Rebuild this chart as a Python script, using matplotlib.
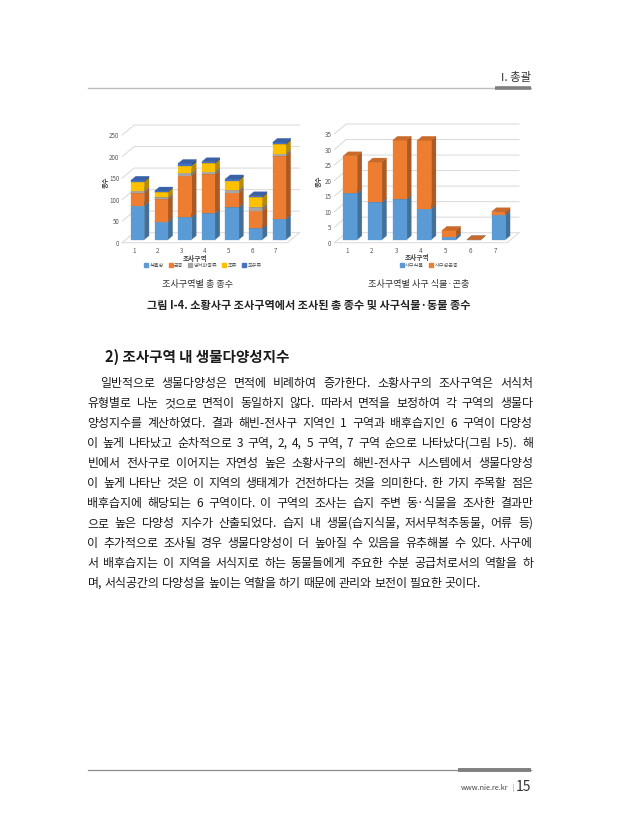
import matplotlib
matplotlib.use('Agg')
import matplotlib.pyplot as plt
from matplotlib.patches import Polygon, Patch
from matplotlib.colors import to_rgb

plt.rcParams['font.family'] = ['Noto Sans CJK KR', 'DejaVu Sans']

# ---------------- data ----------------
zones = ['1', '2', '3', '4', '5', '6', '7']

total_series = ['식물상', '곤충', '양서파충류', '조류', '포유류']
flora = [79, 42, 52, 61, 75, 26, 48]
insects = [29, 52, 97, 91, 34, 41, 146]
herps = [5, 4, 6, 6, 6, 8, 6]
birds = [21, 12, 16, 19, 22, 23, 21]
mammals = [4, 3, 6, 4, 4, 4, 5]
total_colors = ['#5B9BD5', '#ED7D31', '#A5A5A5', '#FFC000', '#4472C4']
total_ticks = [0, 50, 100, 150, 200, 250]

dune_series = ['사구식물', '사구성곤충']
dune_flora = [15, 12, 13, 10, 1, 0, 8]
dune_insects = [12, 13, 19, 22, 2, 0, 1]
dune_colors = ['#5B9BD5', '#ED7D31']
dune_ticks = [0, 5, 10, 15, 20, 25, 30, 35]

body_lines = [
    "일반적으로 생물다양성은 면적에 비례하여 증가한다. 소황사구의 조사구역은 서식처",
    "유형별로 나눈 것으로 면적이 동일하지 않다. 따라서 면적을 보정하여 각 구역의 생물다",
    "양성지수를 계산하였다. 결과 해빈-전사구 지역인 1 구역과 배후습지인 6 구역이 다양성",
    "이 높게 나타났고 순차적으로 3 구역, 2, 4, 5 구역, 7 구역 순으로 나타났다(그림 I-5). 해",
    "빈에서 전사구로 이어지는 자연성 높은 소황사구의 해빈-전사구 시스템에서 생물다양성",
    "이 높게 나타난 것은 이 지역의 생태계가 건전하다는 것을 의미한다. 한 가지 주목할 점은",
    "배후습지에 해당되는 6 구역이다. 이 구역의 조사는 습지 주변 동·식물을 조사한 결과만",
    "으로 높은 다양성 지수가 산출되었다. 습지 내 생물(습지식물, 저서무척추동물, 어류 등)",
    "이 추가적으로 조사될 경우 생물다양성이 더 높아질 수 있음을 유추해볼 수 있다. 사구에",
    "서 배후습지는 이 지역을 서식지로 하는 동물들에게 주요한 수분 공급처로서의 역할을 하",
    "며, 서식공간의 다양성을 높이는 역할을 하기 때문에 관리와 보전이 필요한 곳이다.",
]

# ---------------- page ----------------
W, H = 619, 840
fig = plt.figure(figsize=(W / 100, H / 100), dpi=100)
fig.patch.set_facecolor('white')
page = fig.add_axes([0, 0, 1, 1])
page.set_xlim(0, W)
page.set_ylim(H, 0)
page.axis('off')


def shade(c, f):
    r, g, b = to_rgb(c)
    return (r * f, g * f, b * f)


def chart(series, colors, names, ticks, fl, fr, y0, ytop, dxp, dyp,
          ytitle_xy, xtitle_xy, legend_xy):
    n = len(zones)
    ymax = ticks[-1]
    ax = fig.add_axes([fl / W, 1 - y0 / H, (fr - fl + dxp) / W, (y0 - ytop + dyp) / H])
    ax.patch.set_alpha(0)
    DX = dxp * n / (fr - fl)
    DY = dyp * ymax / (y0 - ytop)
    ax.set_xlim(0.5, n + 0.5 + DX)
    ax.set_ylim(0, ymax + DY)
    for s in ax.spines.values():
        s.set_visible(False)
    gc = '#D9D9D9'
    for v in ticks:
        ax.plot([0.5, 0.5 + DX, n + 0.5 + DX], [v, v + DY, v + DY],
                color=gc, lw=0.7, zorder=1, clip_on=False)
    ax.plot([0.5, n + 0.5, n + 0.5 + DX], [0, 0, DY], color=gc, lw=0.7,
            zorder=1, clip_on=False)
    z0, z1, w = 0.3, 0.7, 0.56
    ddx, ddy = (z1 - z0) * DX, (z1 - z0) * DY
    for i in range(n):
        base = 0
        for vals, c in zip(series, colors):
            v = vals[i]
            xl = (i + 1) - w / 2 + z0 * DX
            xr = xl + w
            yb = base + z0 * DY
            yt = base + v + z0 * DY
            side = Polygon([(xr, yb), (xr + ddx, yb + ddy), (xr + ddx, yt + ddy), (xr, yt)],
                           closed=True, facecolor=shade(c, 0.72), edgecolor=shade(c, 0.72),
                           lw=0.2, zorder=3)
            front = Polygon([(xl, yb), (xr, yb), (xr, yt), (xl, yt)], closed=True,
                            facecolor=c, edgecolor=c, lw=0.2, zorder=3)
            top = Polygon([(xl, yt), (xr, yt), (xr + ddx, yt + ddy), (xl + ddx, yt + ddy)],
                          closed=True, facecolor=shade(c, 0.85), edgecolor=shade(c, 0.85),
                          lw=0.2, zorder=3)
            ax.add_patch(side)
            ax.add_patch(front)
            ax.add_patch(top)
            base += v
    ax.set_yticks(ticks)
    ax.set_yticklabels([str(t) for t in ticks])
    ax.set_xticks(range(1, n + 1))
    ax.set_xticklabels(zones)
    ax.tick_params(axis='both', length=0, labelsize=4.5, colors='#595959')
    ax.tick_params(axis='y', pad=2)
    ax.tick_params(axis='x', pad=3)
    page.text(ytitle_xy[0], ytitle_xy[1], '종수', rotation=90, fontsize=4.5,
              color='#404040', ha='center', va='center', fontweight='bold')
    page.text(xtitle_xy[0], xtitle_xy[1], '조사구역', fontsize=4.8,
              color='#404040', ha='center', va='center', fontweight='bold')
    handles = [Patch(facecolor=c, edgecolor=c) for c in colors]
    fig.legend(handles, names, loc='center',
               bbox_to_anchor=(legend_xy[0] / W, 1 - legend_xy[1] / H),
               ncol=len(names), fontsize=3.7, frameon=False, handlelength=0.8,
               handleheight=0.8, handletextpad=0.3, columnspacing=0.9,
               labelcolor='#595959')
    return ax


chart([flora, insects, herps, birds, mammals], total_colors, total_series, total_ticks,
      fl=122.2, fr=287.4, y0=242.7, ytop=135.0, dxp=12, dyp=10,
      ytitle_xy=(105, 182), xtitle_xy=(195, 258.0), legend_xy=(203, 265.5))

chart([dune_flora, dune_insects], dune_colors, dune_series, dune_ticks,
      fl=334.4, fr=507.3, y0=242.7, ytop=134.0, dxp=11.7, dyp=10,
      ytitle_xy=(318, 181), xtitle_xy=(416.5, 257.5), legend_xy=(429, 265.5))

# ---------------- header / footer ----------------
page.plot([88, 531], [88, 88], color='#BDBDBD', lw=1.0)
page.plot([495, 531], [88, 88], color='#7F7F7F', lw=2.6, solid_capstyle='butt')
page.text(531, 78, 'I. 총괄', fontsize=8.2, ha='right', va='center', color='#333333')

page.plot([88, 531], [770, 770], color='#8C8C8C', lw=0.9)
page.plot([458, 531], [770, 770], color='#7F7F7F', lw=2.8, solid_capstyle='butt')
page.text(531, 787, '15', fontsize=10, ha='right', va='center', color='#333333')
page.text(513, 788, '|', fontsize=4.5, ha='center', va='center', color='#777777')
page.text(508, 788, 'www.nie.re.kr', fontsize=5.3, ha='right', va='center', color='#444444')

# ---------------- captions ----------------
page.text(198, 285, '조사구역별 총 종수', fontsize=6.6, ha='center', va='center', color='#333333')
page.text(419, 285, '조사구역별 사구 식물·곤충', fontsize=6.6, ha='center', va='center', color='#333333')
page.text(309, 306, '그림 I-4. 소황사구 조사구역에서 조사된 총 종수 및 사구식물·동물 종수',
          fontsize=8.0, ha='center', va='center', color='#222222', fontweight='bold')

page.text(105, 357, '2) 조사구역 내 생물다양성지수', fontsize=10.5, ha='left', va='center',
          color='#1a1a1a', fontweight='bold')

# ---------------- justified body text ----------------
renderer = fig.canvas.get_renderer()
left, right, indent = 87.5, 533.0, 12.5
y_first, step = 383.5, 20.0
fs = 8.6

y = y_first
for k, line in enumerate(body_lines):
    x0 = left + (indent if k == 0 else 0)
    words = line.split(' ')
    texts = [page.text(0, y, wd, fontsize=fs, ha='left', va='center', color='#1a1a1a')
             for wd in words]
    widths = [t.get_window_extent(renderer).width for t in texts]
    if k == len(body_lines) - 1:
        gap = fs * 100 / 72 * 0.2
    else:
        gap = (right - x0 - sum(widths)) / (len(words) - 1)
    x = x0
    for t, wd in zip(texts, widths):
        t.set_x(x)
        x += wd + gap
    y += step

fig.savefig('out.png', dpi=100, facecolor='white')
